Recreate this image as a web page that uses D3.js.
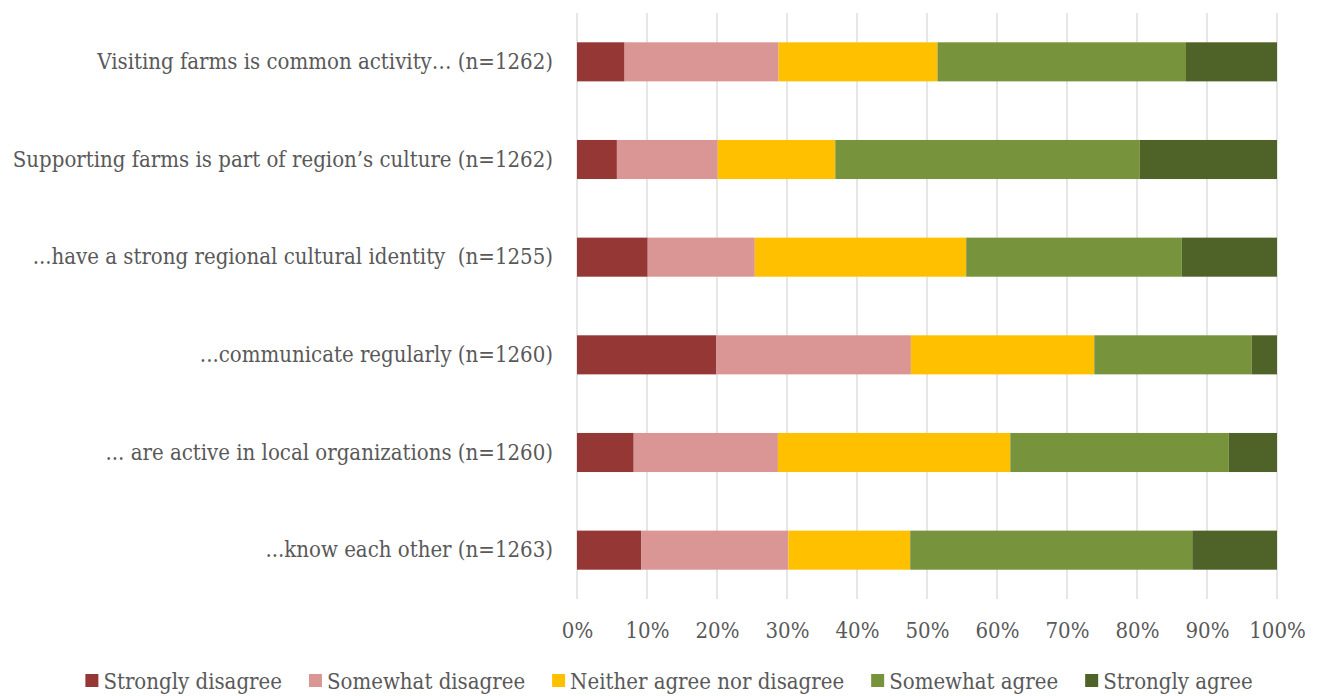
<!DOCTYPE html>
<html>
<head>
<meta charset="utf-8">
<script src="https://cdn.jsdelivr.net/npm/d3@7"></script>
<style>
  body { margin: 0; background: #fff; }
  text { font-family: "DejaVu Serif Condensed", "DejaVu Serif", serif; fill: #595959; white-space: pre; }
</style>
</head>
<body>
<div id="chart"></div>
<script>
// === DONNÉES ===
const categories = [
  "Visiting farms is common activity… (n=1262)",
  "Supporting farms is part of region’s culture (n=1262)",
  "...have a strong regional cultural identity  (n=1255)",
  "...communicate regularly (n=1260)",
  "... are active in local organizations (n=1260)",
  "...know each other (n=1263)"
];
const seriesNames = ["Strongly disagree", "Somewhat disagree", "Neither agree nor disagree", "Somewhat agree", "Strongly agree"];
const stronglyDisagree = [6.8, 5.7, 10.1, 19.9, 8.1, 9.2];
const somewhatDisagree = [22.0, 14.4, 15.3, 27.8, 20.6, 21.0];
const neither = [22.7, 16.8, 30.2, 26.2, 33.2, 17.4];
const somewhatAgree = [35.5, 43.5, 30.8, 22.5, 31.2, 40.3];
const stronglyAgree = [13.0, 19.6, 13.6, 3.6, 6.9, 12.1];
const tickValues = [0, 10, 20, 30, 40, 50, 60, 70, 80, 90, 100];

// === CONFIGURATION ===
const W = 1318, H = 696;
const margin = { top: 13, right: 41, bottom: 97, left: 577 };
const width = W - margin.left - margin.right;
const height = H - margin.top - margin.bottom;
const colors = ["#953735", "#D99694", "#FFC000", "#77933C", "#4F6228"];
const FONT_SIZE = "22px";

const seriesValues = [stronglyDisagree, somewhatDisagree, neither, somewhatAgree, stronglyAgree];
const rows = categories.map((c, i) => {
  const row = { category: c };
  seriesNames.forEach((s, j) => { row[s] = seriesValues[j][i]; });
  return row;
});
// normalise à 100 %
rows.forEach(r => {
  const tot = d3.sum(seriesNames, s => r[s]);
  seriesNames.forEach(s => { r[s] = r[s] / tot * 100; });
});

const svgRoot = d3.select("#chart").append("svg")
  .attr("width", W)
  .attr("height", H);
const svg = svgRoot.append("g")
  .attr("transform", `translate(${margin.left},${margin.top})`);

const x = d3.scaleLinear().domain([0, 100]).range([0, width]);
const y = d3.scaleBand().domain(categories).range([0, height]).paddingInner(0.6).paddingOuter(0.3);

// grille
svg.append("g")
  .selectAll("line")
  .data(tickValues)
  .enter()
  .append("line")
  .attr("x1", d => x(d))
  .attr("x2", d => x(d))
  .attr("y1", 0)
  .attr("y2", height)
  .attr("stroke", "#D9D9D9")
  .attr("stroke-width", 1.3);

// barres empilées
const stack = d3.stack().keys(seriesNames)(rows);
svg.selectAll(".serie")
  .data(stack)
  .enter()
  .append("g")
  .attr("fill", (d, i) => colors[i])
  .selectAll("rect")
  .data(d => d)
  .enter()
  .append("rect")
  .attr("x", d => x(d[0]))
  .attr("width", d => x(d[1]) - x(d[0]))
  .attr("y", d => y(d.data.category))
  .attr("height", y.bandwidth());

// axe X
const xAxis = svg.append("g")
  .attr("transform", `translate(0,${height})`)
  .call(d3.axisBottom(x).tickValues(tickValues).tickFormat(d => d + "%").tickSize(0).tickPadding(23));
xAxis.select(".domain").remove();
xAxis.selectAll("text")
  .style("font-size", FONT_SIZE)
  .attr("fill", "#595959");

// axe Y
const yAxis = svg.append("g")
  .call(d3.axisLeft(y).tickSize(0).tickPadding(24));
yAxis.select(".domain").remove();
yAxis.selectAll("text")
  .style("font-size", FONT_SIZE)
  .attr("fill", "#595959");
svgRoot.selectAll("g").attr("font-family", null);

// === LÉGENDE ===
const legend = svgRoot.append("g").attr("transform", `translate(0, 681)`);
const items = legend.selectAll(".item")
  .data(seriesNames)
  .enter()
  .append("g");
items.append("rect")
  .attr("y", -7)
  .attr("width", 13)
  .attr("height", 13)
  .attr("fill", (d, i) => colors[i]);
items.append("text")
  .attr("x", 18)
  .attr("dy", "0.35em")
  .style("font-size", FONT_SIZE)
  .text(d => d);
let pos = 0;
const offsets = [];
items.each(function() {
  offsets.push(pos);
  pos += this.getBBox().width + 27;
});
const startX = (W - (pos - 27)) / 2 + 10;
items.attr("transform", (d, i) => `translate(${startX + offsets[i]},0)`);
</script>
</body>
</html>
